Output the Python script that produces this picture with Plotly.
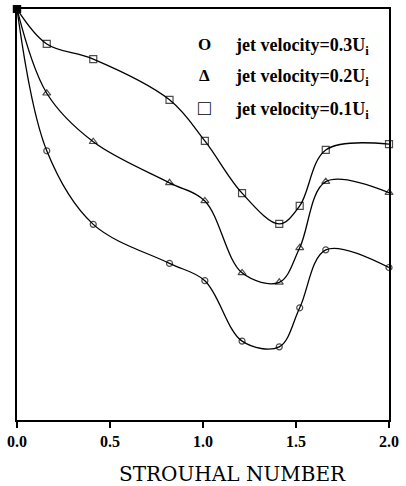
import plotly.graph_objects as go

# Strouhal number (x) and normalized response (y, no scale shown)
strouhal = [0.0, 0.16, 0.41, 0.82, 1.01, 1.21, 1.41, 1.52, 1.66, 2.0]
jet_03 = [1.0, 0.655, 0.476, 0.381, 0.339, 0.192, 0.178, 0.273, 0.414, 0.371]
jet_02 = [1.0, 0.795, 0.677, 0.577, 0.533, 0.358, 0.335, 0.419, 0.580, 0.553]
jet_01 = [1.0, 0.915, 0.878, 0.779, 0.679, 0.552, 0.477, 0.521, 0.657, 0.671]

series_labels = ["jet velocity=0.3U<sub>i</sub>", "jet velocity=0.2U<sub>i</sub>", "jet velocity=0.1U<sub>i</sub>"]
legend_glyphs = ["O", "Δ", "□"]
xticks = [0.0, 0.5, 1.0, 1.5, 2.0]
xtick_text = ["0.0", "0.5", "1.0", "1.5", "2.0"]
x_title = "STROUHAL NUMBER"

SERIF = "Liberation Serif"
L, R, T, B = 17, 17, 9, 66
W, H = 406, 486
PW, PH = W - L - R, H - T - B


def px_x(px):
    return (px - L) / PW


def px_y(py):
    return (H - B - py) / PH


fig = go.Figure()
series = [(jet_03, "circle-open", 6), (jet_02, "triangle-up-open", 7), (jet_01, "square-open", 7)]
for (ys, sym, sz), name in zip(series, series_labels):
    symbols = ["square"] + [sym] * (len(ys) - 1)
    sizes = [7] + [sz] * (len(ys) - 1)
    fig.add_trace(go.Scatter(
        x=strouhal, y=ys, mode="lines+markers", name=name,
        line=dict(color="black", width=1.3, shape="spline", smoothing=1.0),
        marker=dict(symbol=symbols, size=sizes, color="black",
                    line=dict(color="black", width=1.2)),
        cliponaxis=False, showlegend=False, hoverinfo="skip",
    ))

# legend as text annotations
leg_py = [44, 75, 108]
glyph_sizes = [17, 17, 21]
for g, gs, lab, py in zip(legend_glyphs, glyph_sizes, series_labels, leg_py):
    fig.add_annotation(x=px_x(204), y=px_y(py), xref="paper", yref="paper", text="<b>" + g + "</b>",
                       showarrow=False, xanchor="center", yanchor="middle",
                       font=dict(family=SERIF, size=gs, color="black"))
    fig.add_annotation(x=px_x(233), y=px_y(py + 2), xref="paper", yref="paper", text="<b>" + lab + "</b>",
                       showarrow=False, xanchor="left", yanchor="middle",
                       font=dict(family=SERIF, size=18, color="black"))

# x-axis title (offset to the right as in the reference)
fig.add_annotation(x=px_x(232), y=px_y(474), xref="paper", yref="paper", text=x_title,
                   showarrow=False, xanchor="center", yanchor="middle",
                   font=dict(family="DejaVu Serif", size=20, color="black"))

fig.update_layout(
    width=W, height=H,
    margin=dict(l=L, r=R, t=T, b=B),
    paper_bgcolor="white", plot_bgcolor="white",
    hovermode=False,
    xaxis=dict(range=[0, 2.0], tickvals=xticks, ticktext=xtick_text, automargin=False,
               ticks="outside", ticklen=6, tickwidth=1.5, tickcolor="black",
               tickfont=dict(family=SERIF, size=16, color="black", weight="bold"),
               showline=True, linecolor="black", linewidth=2, mirror=True,
               showgrid=False, zeroline=False, fixedrange=True),
    yaxis=dict(range=[0, 1.0], showticklabels=False, ticks="", automargin=False,
               showline=True, linecolor="black", linewidth=2, mirror=True,
               showgrid=False, zeroline=False, fixedrange=True),
)

fig.write_html("out.html", config={"displayModeBar": False},
               post_script="document.body.style.margin='0';document.body.style.overflow='hidden';")
